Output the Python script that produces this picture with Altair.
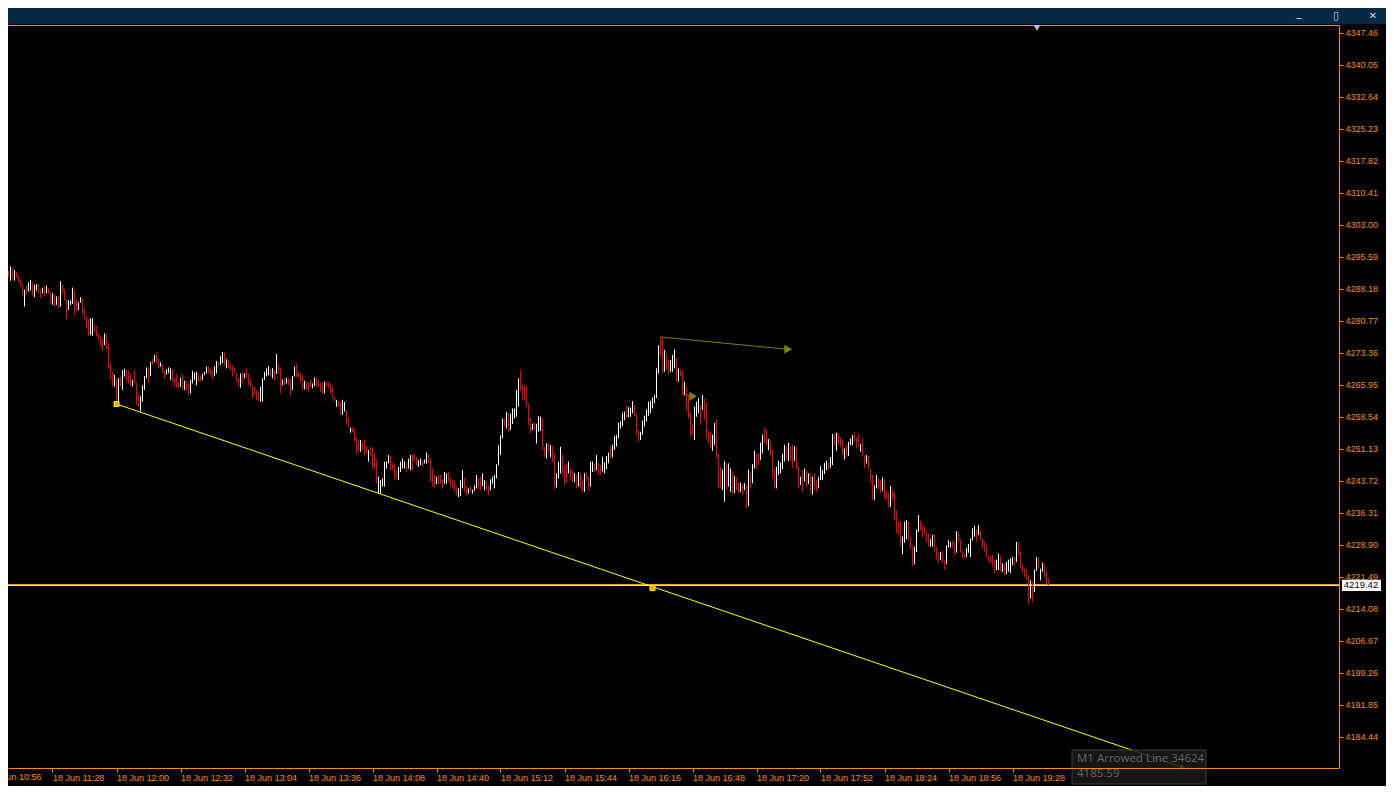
import altair as alt
import pandas as pd

ORANGE = "#FF8C00"
OLIVE = "#808000"
FONT = "Liberation Sans"
W, H = 1331, 743

# one bar per minute from 18 Jun 11:02
bar_high = [
    4292.3, 4292.3, 4290.9, 4292.7, 4292.3, 4293.3, 4292.9, 4292.5, 4292.1, 4291.3,
    4290.3, 4289.4, 4287.9, 4288.8, 4289.6, 4290.2, 4289.6, 4289.0, 4289.2, 4289.2,
    4288.0, 4288.4, 4288.6, 4288.8, 4288.3, 4287.5, 4287.1, 4286.9, 4286.3, 4286.3,
    4289.9, 4289.2, 4288.0, 4285.7, 4285.5, 4285.3, 4288.4, 4287.9, 4285.5, 4284.9,
    4286.2, 4285.9, 4283.5, 4281.8, 4281.1, 4281.3, 4281.3, 4279.9, 4279.6, 4277.8,
    4277.2, 4276.6, 4277.8, 4277.7, 4275.5, 4270.9, 4268.9, 4268.2, 4267.4, 4267.4,
    4267.8, 4269.3, 4269.6, 4269.3, 4269.1, 4268.6, 4267.0, 4269.3, 4266.4, 4263.8,
    4263.2, 4265.8, 4267.9, 4269.9, 4269.7, 4271.2, 4271.9, 4272.8, 4273.2, 4272.0,
    4271.1, 4270.7, 4269.3, 4269.5, 4269.9, 4269.7, 4269.5, 4267.6, 4268.4, 4266.6,
    4267.5, 4268.4, 4266.8, 4266.8, 4266.2, 4267.0, 4269.1, 4268.7, 4268.9, 4268.5,
    4268.1, 4268.5, 4268.9, 4270.1, 4270.1, 4269.7, 4269.1, 4270.1, 4271.4, 4271.2,
    4272.5, 4273.5, 4273.4, 4271.8, 4271.6, 4270.8, 4270.5, 4269.9, 4268.5, 4267.5,
    4268.5, 4268.9, 4268.5, 4269.7, 4268.5, 4267.4, 4265.8, 4265.4, 4264.7, 4264.3,
    4265.4, 4267.4, 4268.9, 4269.7, 4270.2, 4269.3, 4269.7, 4269.3, 4273.0, 4270.8,
    4269.7, 4267.1, 4267.4, 4267.5, 4267.4, 4267.1, 4267.9, 4270.1, 4270.8, 4268.9,
    4268.5, 4268.1, 4266.8, 4266.6, 4266.4, 4267.0, 4266.2, 4267.6, 4267.6, 4267.0,
    4266.4, 4266.4, 4266.6, 4266.8, 4266.6, 4266.2, 4265.4, 4263.1, 4262.4, 4262.1,
    4262.0, 4262.4, 4261.9, 4260.0, 4258.3, 4256.0, 4256.0, 4255.8, 4253.9, 4253.2,
    4253.1, 4252.7, 4253.2, 4251.7, 4250.8, 4251.4, 4251.5, 4250.0, 4248.6, 4244.6,
    4243.8, 4244.2, 4248.1, 4248.1, 4249.6,
    4249.4, 4247.8, 4247.7, 4246.1, 4246.9, 4248.1, 4248.8, 4248.1, 4247.8, 4248.8,
    4249.6, 4249.8, 4249.8, 4249.2, 4248.4, 4248.8, 4248.4, 4248.6, 4250.2, 4249.8,
    4248.8, 4246.5, 4245.0, 4244.6, 4245.1, 4245.0, 4244.0, 4245.7, 4245.4, 4245.7,
    4244.4, 4243.7, 4243.8, 4242.3, 4241.9, 4243.8, 4246.1, 4244.4, 4242.4, 4241.9,
    4242.5, 4241.6, 4242.6, 4245.0, 4244.4, 4244.6, 4245.4, 4243.8, 4243.7, 4242.6,
    4244.0, 4244.6, 4245.0, 4247.5, 4251.9, 4254.2, 4258.1, 4258.1, 4259.6, 4259.4,
    4259.2, 4260.4, 4260.4, 4264.7, 4267.4, 4269.3, 4266.0, 4265.8, 4265.6, 4261.6,
    4258.1, 4256.9, 4257.1, 4256.9, 4258.6, 4258.5, 4258.1, 4251.5, 4252.3, 4252.5,
    4251.9, 4251.7, 4250.0, 4245.4, 4248.1, 4251.5, 4249.8, 4247.3, 4247.7, 4248.1,
    4246.5, 4246.1, 4245.4, 4245.0, 4245.7, 4245.4, 4244.0, 4245.4, 4245.5, 4244.6,
    4248.1, 4248.1, 4247.7, 4249.6, 4247.7,
    4247.3, 4249.2, 4247.9, 4249.4, 4250.2, 4251.6, 4252.0, 4254.0, 4254.3, 4257.1,
    4257.4, 4259.4, 4259.7, 4261.2, 4260.7, 4260.6, 4262.1, 4261.2, 4259.1, 4255.4,
    4255.0, 4257.6, 4258.7, 4260.2, 4262.0, 4262.2, 4262.9, 4263.5, 4269.7, 4275.1,
    4276.9, 4276.9, 4274.0, 4273.2, 4271.6, 4271.6, 4272.8, 4274.1, 4272.3, 4269.7,
    4269.5, 4269.3, 4266.6, 4265.6, 4263.5, 4259.7, 4256.6, 4260.8, 4262.0, 4262.8,
    4261.2, 4263.5, 4262.8, 4261.8, 4255.4, 4255.0, 4254.3, 4257.0, 4257.9, 4250.0,
    4246.8, 4246.2, 4248.2, 4247.7, 4247.7, 4246.5, 4245.8, 4244.8, 4244.5, 4243.1,
    4243.2, 4242.9, 4243.1, 4242.7, 4246.2, 4245.4, 4247.5, 4250.6, 4249.9, 4250.0,
    4252.5, 4254.3, 4256.0, 4255.4, 4253.3, 4252.9, 4250.9, 4246.5, 4246.9, 4248.3,
    4247.9, 4249.9, 4252.0, 4251.6, 4252.5, 4251.6, 4252.0, 4251.6, 4251.4, 4247.1,
    4244.6, 4246.0, 4246.5, 4246.2, 4245.4, 4245.4, 4244.6, 4245.4, 4243.8, 4244.6,
    4247.0, 4246.1, 4247.8, 4248.3, 4247.8, 4249.1, 4254.5, 4254.5, 4254.8, 4254.6,
    4253.8, 4253.2, 4251.1, 4251.9, 4252.7, 4253.5, 4254.2, 4254.9, 4253.7, 4254.6,
    4252.1, 4253.5, 4249.6, 4249.6, 4249.4, 4246.3, 4245.0, 4242.6, 4245.0, 4244.2,
    4243.8, 4244.4, 4244.0, 4241.6, 4240.9, 4242.4, 4241.6, 4241.1, 4236.9, 4234.2,
    4234.2, 4230.7, 4234.2, 4234.5, 4234.2, 4230.8, 4228.7, 4228.4, 4232.4, 4235.7,
    4234.5, 4233.6, 4233.2, 4231.8, 4231.5, 4230.1, 4231.1, 4231.3, 4228.5, 4227.0,
    4227.2, 4227.4, 4225.3, 4228.7, 4229.9, 4229.5, 4229.8, 4229.5, 4232.0, 4231.8,
    4230.1, 4227.4, 4226.8, 4228.1, 4229.0, 4230.3, 4232.6, 4233.2, 4232.4, 4233.4,
    4232.0, 4230.3, 4229.5, 4228.7, 4226.4, 4226.2, 4226.6, 4225.3, 4225.4, 4226.8,
    4226.2, 4224.5, 4224.5, 4224.9, 4225.4, 4225.7, 4226.0, 4226.0, 4229.5, 4229.5,
    4227.2, 4224.3, 4223.3, 4223.1, 4221.8, 4220.6, 4220.3, 4223.1, 4226.0, 4225.9,
    4223.3, 4224.7, 4224.5, 4222.6, 4221.0,
]

bar_low = [
    4288.8, 4287.9, 4287.5, 4290.4, 4290.9, 4290.0, 4290.3, 4290.0, 4290.6, 4289.6,
    4288.6, 4286.7, 4284.0, 4286.7, 4287.5, 4287.7, 4286.5, 4286.2, 4287.7, 4287.1,
    4285.9, 4287.1, 4286.3, 4287.1, 4286.9, 4284.8, 4284.4, 4284.0, 4284.4, 4283.5,
    4284.0, 4287.1, 4285.5, 4281.1, 4283.2, 4284.4, 4284.6, 4282.1, 4283.2, 4283.2,
    4284.9, 4282.3, 4281.0, 4279.0, 4277.2, 4277.4, 4277.2, 4278.0, 4277.0, 4275.9,
    4274.7, 4273.7, 4275.1, 4274.1, 4269.5, 4267.0, 4265.5, 4265.5, 4261.6, 4262.0,
    4265.5, 4264.7, 4267.8, 4266.6, 4266.2, 4265.6, 4265.5, 4266.2, 4261.2, 4260.8,
    4259.7, 4262.0, 4264.7, 4267.4, 4266.4, 4267.9, 4270.5, 4271.2, 4270.9, 4269.7,
    4270.1, 4268.6, 4267.2, 4268.2, 4268.6, 4267.0, 4266.6, 4265.5, 4265.2, 4265.2,
    4265.4, 4264.7, 4264.7, 4264.7, 4263.5, 4263.9, 4266.2, 4267.0, 4265.8, 4266.6,
    4266.6, 4267.0, 4268.1, 4268.5, 4268.5, 4268.1, 4267.1, 4267.9, 4268.5, 4270.1,
    4270.5, 4270.9, 4270.2, 4269.7, 4269.7, 4269.3, 4267.8, 4268.5, 4266.6, 4265.4,
    4265.2, 4266.2, 4267.4, 4267.4, 4265.8, 4265.4, 4262.7, 4263.5, 4262.4, 4262.0,
    4262.0, 4262.0, 4267.0, 4267.8, 4268.1, 4267.8, 4267.4, 4267.0, 4268.4, 4268.5,
    4263.9, 4265.8, 4265.8, 4266.2, 4265.8, 4263.5, 4264.7, 4267.8, 4267.6, 4267.4,
    4266.6, 4264.7, 4264.8, 4264.7, 4264.3, 4265.4, 4265.1, 4265.6, 4265.4, 4265.4,
    4264.3, 4263.9, 4263.9, 4265.4, 4265.1, 4263.9, 4262.7, 4262.0, 4260.8, 4260.8,
    4259.1, 4258.9, 4259.7, 4256.9, 4256.2, 4254.8, 4254.8, 4252.7, 4249.6, 4250.4,
    4250.4, 4250.8, 4249.6, 4250.0, 4248.1, 4249.6, 4246.5, 4246.5, 4243.0, 4240.7,
    4240.7, 4242.3, 4242.3, 4246.5, 4247.7,
    4246.1, 4246.1, 4243.8, 4244.2, 4243.8, 4245.7, 4246.5, 4246.5, 4245.7, 4246.5,
    4246.1, 4246.1, 4248.3, 4247.3, 4246.9, 4247.3, 4246.9, 4247.7, 4247.7, 4247.7,
    4243.4, 4242.3, 4242.1, 4242.9, 4242.9, 4243.0, 4241.7, 4243.0, 4243.0, 4243.4,
    4242.3, 4242.0, 4241.1, 4240.3, 4239.9, 4240.1, 4241.9, 4241.1, 4240.3, 4240.7,
    4241.1, 4240.7, 4241.3, 4241.9, 4241.5, 4241.5, 4242.4, 4241.5, 4241.3, 4240.3,
    4241.5, 4243.0, 4241.9, 4244.2, 4247.3, 4249.6, 4253.5, 4256.2, 4255.8, 4255.0,
    4255.4, 4256.8, 4258.1, 4258.5, 4260.8, 4264.5, 4262.5, 4262.2, 4260.8, 4256.5,
    4254.6, 4255.4, 4255.4, 4252.3, 4255.0, 4255.2, 4250.8, 4249.2, 4248.8, 4250.0,
    4249.2, 4248.1, 4241.6, 4242.1, 4244.2, 4245.4, 4245.0, 4242.6, 4243.2, 4245.4,
    4243.8, 4243.4, 4243.4, 4241.9, 4242.3, 4241.9, 4241.1, 4241.1, 4243.7, 4241.3,
    4242.3, 4245.7, 4245.7, 4246.1, 4245.0,
    4245.0, 4245.8, 4245.4, 4246.3, 4247.7, 4248.6, 4249.1, 4250.8, 4251.6, 4253.5,
    4255.8, 4256.3, 4257.7, 4258.1, 4258.4, 4258.5, 4259.3, 4258.5, 4254.3, 4252.7,
    4253.1, 4254.3, 4256.2, 4257.4, 4258.7, 4259.3, 4260.4, 4261.6, 4262.8, 4268.5,
    4272.4, 4268.5, 4268.9, 4269.3, 4268.5, 4268.9, 4268.9, 4269.7, 4266.6, 4266.6,
    4267.8, 4263.5, 4263.5, 4259.7, 4258.1, 4253.9, 4254.3, 4253.1, 4258.5, 4259.3,
    4256.6, 4260.1, 4257.7, 4253.5, 4252.3, 4251.2, 4250.6, 4252.0, 4248.9, 4241.9,
    4241.9, 4241.5, 4238.8, 4241.5, 4242.3, 4241.1, 4240.4, 4240.8, 4241.5, 4240.8,
    4241.1, 4240.4, 4241.5, 4237.3, 4237.8, 4241.9, 4243.1, 4246.5, 4246.3, 4247.3,
    4248.5, 4250.0, 4252.3, 4251.9, 4250.8, 4249.6, 4244.2, 4241.7, 4241.9, 4245.0,
    4245.4, 4246.3, 4248.1, 4248.5, 4248.3, 4248.1, 4246.5, 4248.3, 4246.3, 4241.9,
    4242.7, 4241.1, 4243.5, 4242.3, 4242.9, 4240.8, 4240.4, 4241.5, 4241.1, 4241.9,
    4243.8, 4243.8, 4245.2, 4246.1, 4246.3, 4246.7, 4247.3, 4251.7, 4250.6, 4252.1,
    4251.4, 4249.6, 4248.6, 4249.1, 4249.4, 4251.9, 4251.9, 4252.9, 4251.1, 4251.7,
    4250.4, 4249.2, 4246.5, 4247.7, 4246.3, 4243.0, 4239.3, 4239.2, 4241.9, 4241.6,
    4240.9, 4241.3, 4239.3, 4239.3, 4237.5, 4237.6, 4239.3, 4234.4, 4231.5, 4231.1,
    4228.5, 4226.7, 4229.3, 4230.1, 4229.9, 4227.7, 4223.9, 4224.3, 4227.2, 4231.8,
    4232.2, 4230.5, 4231.3, 4229.3, 4228.4, 4228.4, 4228.4, 4227.0, 4225.4, 4224.5,
    4225.3, 4224.7, 4223.0, 4224.3, 4228.2, 4228.2, 4228.0, 4226.4, 4227.0, 4229.5,
    4227.0, 4225.7, 4225.7, 4225.9, 4227.0, 4226.0, 4229.9, 4230.7, 4229.5, 4231.1,
    4229.8, 4228.0, 4227.2, 4225.9, 4224.9, 4224.5, 4223.7, 4222.2, 4223.0, 4223.0,
    4222.6, 4222.6, 4221.8, 4222.0, 4222.6, 4222.3, 4224.1, 4223.9, 4224.9, 4226.4,
    4223.3, 4222.3, 4221.4, 4220.8, 4215.1, 4216.4, 4215.6, 4217.9, 4222.8, 4223.3,
    4220.6, 4222.6, 4221.2, 4219.5, 4219.4,
]

# W = bull bar (white), R = bear bar (red)
bar_dir = (
    "WRWWRWRWRR" "RRWRWWRWWR" "RWRWRRWRWR" "WRRRWWWRRW" "WRRRRWWRRR"
    "RRWRRRRWRW" "RWWRRRWRRR" "WWWWRWRWRR" "WRRWWWRRRR" "WRWRRWWWWR"
    "RWWWRRRWWR" "WWRWRRRRRR" "WRWRRRRRRR" "WWWWWRWRWR" "RWRWRRWWRR"
    "RRWRRRWWRR" "RRWRRRRRWR" "RWWRRWRRRR" "WRRRWRRRRW" "WWWWWRRRRW"
    "WWWRWWRRRW" "WRWWRRRRWR" "RRWWRRRRRW" "WWRRWRWWWR" "RWWRRWWWWW"
    "WWRWRWWWWW" "RRRRRRWRWW" "WRRWRWRRWW" "WRRRWRRWRW" "RRWRRWWRWR"
    "RWWWWRWWWW" "WWWRWWWRRR" "WWWWWWWWWW" "RRWRRWWWRW" "RRWRRRRWWW"
    "RWRRRRWWRR" "RWWRWWRWRR" "WRWRWRWWRR" "WWRRWRRRWW" "WWWRWRRWRR"
    "WRWRWRWRRW" "WWWWRWWRWR" "RRWRWWWRRR" "WRRWRRRWWR" "RWRRRWRRRR"
    "RWWWRRRWWW" "RRRRRWWRRR" "WRRWWWRRWR" "RRRWWWWWRW" "RRRRRRRRWW"
    "RWRWWWWRWR" "RRRRRWRWWR" "WWRRR"
)

x_tick_times = ["11:28", "12:00", "12:32", "13:04", "13:36", "14:08", "14:40", "15:12",
                "15:44", "16:16", "16:48", "17:20", "17:52", "18:24", "18:56", "19:28"]
y_tick_values = [4347.46, 4340.05, 4332.64, 4325.23, 4317.82, 4310.41, 4303.00, 4295.59,
                 4288.18, 4280.77, 4273.36, 4265.95, 4258.54, 4251.13, 4243.72, 4236.31,
                 4228.90, 4221.49, 4214.08, 4206.67, 4199.26, 4191.85, 4184.44]

bid_price = 4219.42

trend_times = ["12:00", "20:53"]
trend_prices = [4261.43, 4177.3]
anchor_times = ["12:00", "16:28"]
anchor_prices = [4261.43, 4218.81]

arrow1_times = ["16:31:51", "17:35:51"]
arrow1_prices = [4276.95, 4274.1]
arrow2_times = ["16:42:51", "16:48:21"]
arrow2_prices = [4263.64, 4263.22]


def dt(hms):
    p = [int(v) for v in hms.split(":")] + [0]
    return alt.DateTime(year=2025, month=6, date=18, hours=p[0], minutes=p[1], seconds=p[2])


def iso(hms):
    return "2025-06-18T" + (hms if hms.count(":") == 2 else hms + ":00")


n = min(len(bar_high), len(bar_low), len(bar_dir))
start = pd.Timestamp("2025-06-18 11:02")
bars_df = pd.DataFrame({
    "t": [(start + pd.Timedelta(minutes=k)).strftime("%Y-%m-%dT%H:%M:%S") for k in range(n)],
    "hi": bar_high[:n],
    "lo": bar_low[:n],
    "dir": list(bar_dir[:n]),
})

x_scale = alt.Scale(domain=[dt("11:05:45"), dt("22:11:15")])
y_scale = alt.Scale(domain=[4177.15, 4349.20], zero=False, nice=False)

x_axis = alt.Axis(values=[dt(v) for v in x_tick_times], format="%d %b %H:%M",
                  labelAlign="left", labelBaseline="top", labelPadding=1,
                  labelColor=ORANGE, labelFont=FONT, labelFontSize=9,
                  labelFlush=False, labelOverlap=False, labelBound=False,
                  tickColor=ORANGE, tickSize=4, domainColor=ORANGE,
                  grid=False, zindex=1)
y_axis = alt.Axis(orient="right", values=y_tick_values, format=".2f",
                  labelAlign="left", labelBaseline="middle", labelPadding=2,
                  labelColor=ORANGE, labelFont=FONT, labelFontSize=9,
                  labelFlush=False, labelOverlap=False,
                  tickColor=ORANGE, tickSize=4, domainColor=ORANGE, grid=False)


def X(field):
    return alt.X(field, type="temporal", scale=x_scale, axis=x_axis, title=None)


def Y(field):
    return alt.Y(field, type="quantitative", scale=y_scale, axis=y_axis, title=None)


def YD(v):
    return alt.YDatum(v, type="quantitative", scale=y_scale, axis=y_axis, title=None)


one = alt.Data(values=[{}])

titlebar = alt.Chart(one).mark_rect(color="#062842").encode(
    x=alt.value(0), x2=alt.value(1378), y=alt.value(-17), y2=alt.value(-1))

top_border = alt.Chart(one).mark_rule(color=ORANGE, strokeWidth=1).encode(
    x=alt.value(0), x2=alt.value(W), y=alt.value(0.5))

bid_df = pd.DataFrame({"p": [bid_price]})
bid_orange = alt.Chart(bid_df).mark_rule(color="#FFA01E", strokeWidth=1, yOffset=-1).encode(y=Y("p"))
bid_pale = alt.Chart(bid_df).mark_rule(color="#FFE9C0", strokeWidth=1).encode(y=Y("p"))

bars = alt.Chart(bars_df).mark_rule(strokeWidth=1).encode(
    x=X("t"),
    y=Y("lo"),
    y2="hi:Q",
    color=alt.Color("dir:N", scale=alt.Scale(domain=["W", "R"], range=["#FFFFFF", "#FF0000"]),
                    legend=None),
)

trend_df = pd.DataFrame({"t": [iso(v) for v in trend_times], "p": trend_prices})
trend = alt.Chart(trend_df).mark_line(color="#FFFF00", strokeWidth=1).encode(x=X("t"), y=Y("p"))
trend_head = alt.Chart(trend_df.tail(1)).mark_point(
    shape="triangle-right", filled=True, size=35, angle=19, color="#E6E600", opacity=1
).encode(x=X("t"), y=Y("p"))

anchor_df = pd.DataFrame({"t": [iso(v) for v in anchor_times], "p": anchor_prices})
anchors = alt.Chart(anchor_df).mark_square(
    size=25, fill="#F0A020", stroke="#FFFF00", strokeWidth=1, opacity=1
).encode(x=X("t"), y=Y("p"))

olive_layers = []
for times, prices in [(arrow1_times, arrow1_prices), (arrow2_times, arrow2_prices)]:
    adf = pd.DataFrame({"t": [iso(v) for v in times], "p": prices})
    olive_layers.append(alt.Chart(adf).mark_line(color=OLIVE, strokeWidth=1).encode(x=X("t"), y=Y("p")))
    olive_layers.append(alt.Chart(adf.tail(1)).mark_point(
        shape="triangle-right", filled=True, size=80, color=OLIVE, opacity=1
    ).encode(x=X("t"), y=Y("p")))

bid_box = alt.Chart(bid_df).mark_rect(color="#FFFFFF").encode(
    x=alt.value(W + 3), x2=alt.value(W + 42), y=YD(bid_price + 1.3),
    y2=alt.Y2Datum(bid_price - 1.3))
bid_text = alt.Chart(bid_df).mark_text(
    align="center", baseline="middle", font=FONT, fontSize=9.5, color="#000000"
).encode(x=alt.value(W + 22), y=Y("p"), text=alt.Text("p:Q", format=".2f"))

first_label = alt.Chart(one).mark_text(
    align="left", baseline="top", font=FONT, fontSize=9, color=ORANGE, dx=1
).encode(x=alt.XDatum(dt("10:56"), type="temporal", scale=x_scale, axis=x_axis, title=None),
         y=alt.value(H + 5), text=alt.value("18 Jun 10:56"))

shift_marker = alt.Chart(one).mark_point(
    shape="triangle-down", filled=True, size=40, color="#C8C8C8", opacity=1
).encode(x=alt.value(1029), y=alt.value(3))

tip_box = alt.Chart(one).mark_rect(
    fill="#1A1A1A", fillOpacity=0.85, stroke="#3C3C3C", strokeWidth=1
).encode(x=alt.value(1064), x2=alt.value(1198), y=alt.value(725), y2=alt.value(759))
tip_name = alt.Chart(one).mark_text(
    align="left", baseline="middle", font="Open Sans", fontSize=11.5, color="#666666"
).encode(x=alt.value(1069), y=alt.value(734), text=alt.value("M1 Arrowed Line 34624"))
tip_price = alt.Chart(one).mark_text(
    align="left", baseline="middle", font="Open Sans", fontSize=11.5, color="#666666"
).encode(x=alt.value(1069), y=alt.value(749), text=alt.value("4185.59"))

buttons = [
    alt.Chart(one).mark_text(font="DejaVu Sans", fontSize=size, color="#C9D3DD").encode(
        x=alt.value(bx), y=alt.value(by), text=alt.value(glyph))
    for glyph, bx, by, size in [("_", 1291, -12, 10), ("\u25AF", 1328, -9, 11), ("\u2715", 1365, -9, 10)]
]

chart = alt.layer(
    titlebar, top_border, bid_orange, bid_pale, bars, trend, trend_head, anchors,
    *olive_layers, bid_box, bid_text, first_label, shift_marker,
    tip_box, tip_name, tip_price, *buttons,
).properties(
    width=W, height=H,
    padding={"left": 0, "top": 17, "right": 47, "bottom": 18},
    autosize=alt.AutoSizeParams(type="none"),
    background="#000000",
).configure_view(stroke=None)

chart.save("out.html", embed_options={"renderer": "svg", "actions": False})
